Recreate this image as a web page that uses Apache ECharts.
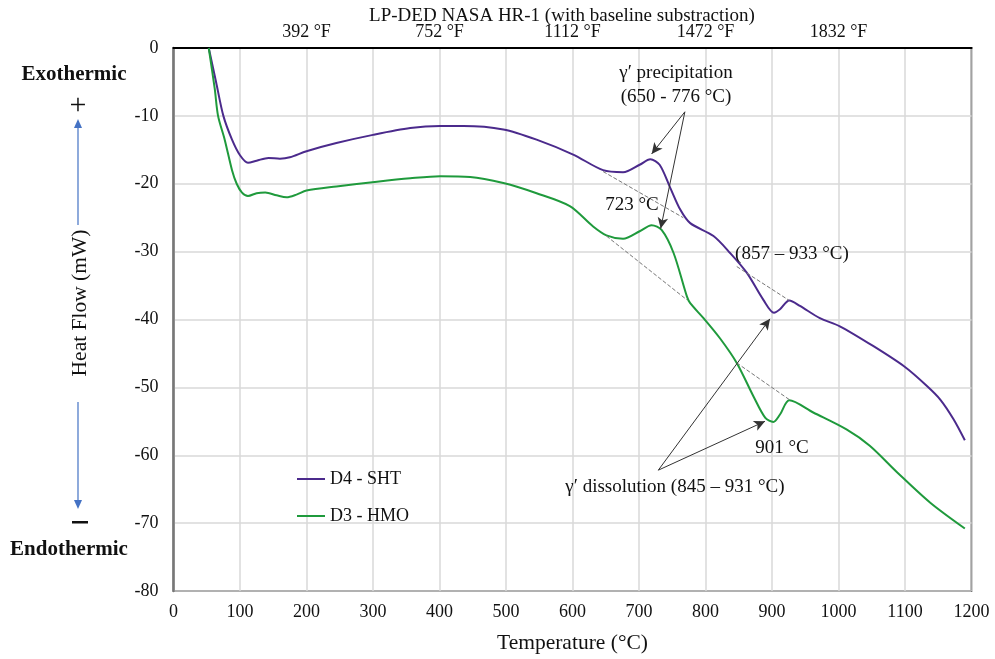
<!DOCTYPE html>
<html><head><meta charset="utf-8">
<script src="https://cdn.jsdelivr.net/npm/echarts@6/dist/echarts.min.js"></script>
<style>html,body{margin:0;padding:0;background:#fff}#c{width:995px;height:659px}</style>
</head><body><div id="c"></div>
<script>
// ---- data ----
const shtTemp = [53, 64, 75, 88, 100, 112, 125, 143, 160, 175, 200, 245, 300, 356, 401, 436, 496, 546, 601, 646, 676, 701, 717, 731, 747, 762, 777, 812, 837, 862, 887, 903, 912, 926, 942, 972, 1002, 1052, 1100, 1133, 1153, 1173, 1190];
const shtHeat = [0, -5, -10, -13.5, -15.8, -16.9, -16.6, -16.2, -16.3, -16.1, -15.2, -14.0, -12.8, -11.8, -11.5, -11.5, -12.0, -13.5, -15.7, -18.0, -18.3, -17.2, -16.4, -17.2, -20.6, -23.8, -25.8, -27.7, -30.2, -33.1, -37.1, -39.0, -38.5, -37.2, -38.0, -39.8, -41.0, -43.9, -47.0, -49.8, -51.8, -54.7, -57.8];
const hmoTemp = [53, 62, 67, 77, 88, 95, 103, 112, 125, 138, 155, 170, 185, 200, 245, 306, 356, 401, 446, 496, 546, 596, 631, 651, 676, 701, 719, 734, 752, 772, 777, 797, 822, 847, 872, 890, 902, 912, 926, 962, 1012, 1047, 1088, 1138, 1190];
const hmoHeat = [0, -6, -10, -13.5, -18, -20, -21.3, -21.8, -21.4, -21.3, -21.7, -22.0, -21.6, -21.0, -20.4, -19.7, -19.2, -18.9, -19.0, -19.9, -21.4, -23.3, -26.3, -27.6, -28.1, -27.0, -26.1, -26.8, -30.2, -36.6, -37.6, -39.8, -42.8, -46.4, -51.3, -54.5, -55.1, -54.0, -51.9, -53.7, -56.2, -58.6, -62.5, -67.0, -70.8];
const seriesNames = ['D4 - SHT', 'D3 - HMO'];
const xTicksC = [0, 100, 200, 300, 400, 500, 600, 700, 800, 900, 1000, 1100, 1200];
const topTicksC = [200, 400, 600, 800, 1000];
const yTicks = [0, -10, -20, -30, -40, -50, -60, -70, -80];
// baselines (dashed) [T1, H1, T2, H2]
const shtBaselines = [[646, -18.2, 766.6, -25.0], [847, -32.2, 926, -37.2]];
const hmoBaselines = [[651, -27.7, 772, -37.1], [847, -46.4, 926, -51.8]];
// annotation arrows [fromT, fromH, toT, toH]
const arrows = [[769, -9.4, 719, -15.6], [769, -9.4, 732.6, -26.6], [729, -62.2, 897, -39.9], [729, -62.2, 889.5, -55.0]];
// annotation texts [text, T, H]
const notes = [
  ['γ′ precipitation', 755.6, -3.7],
  ['(650 - 776 °C)', 755.6, -7.2],
  ['723 °C', 689.5, -23.1],
  ['(857 – 933 °C)', 930, -30.4],
  ['901 °C', 915, -59.0],
  ['γ′ dissolution (845 – 931 °C)', 754, -64.7]
];

const FONT = '"Liberation Serif", "DejaVu Serif", serif';
const purple = '#4b2a8c';
const green = '#1f9a3c';

function pairs(t, h) { return t.map((v, i) => [v, h[i]]); }
function baseLines(arr) {
  return arr.map(b => [{ coord: [b[0], b[1]] }, { coord: [b[2], b[3]] }]);
}

const chart = echarts.init(document.getElementById('c'), null, { renderer: 'canvas' });
const option = {
  animation: false,
  backgroundColor: '#fff',
  grid: { left: 173.5, right: 23.5, top: 48, bottom: 66, show: true, borderColor: '#000', borderWidth: 1.5, backgroundColor: 'transparent' },
  legend: {
    orient: 'vertical', left: 292, top: 465, itemWidth: 28, itemHeight: 2, itemGap: 19, icon: 'rect',
    textStyle: { fontFamily: FONT, fontSize: 18, color: '#111' },
    data: seriesNames
  },
  xAxis: [
    {
      type: 'value', min: 0, max: 1200, interval: 100, position: 'bottom',
      name: 'Temperature (°C)', nameLocation: 'middle', nameGap: 41,
      nameTextStyle: { fontFamily: FONT, fontSize: 21.5, color: '#111' },
      axisLine: { show: true, lineStyle: { color: '#000', width: 2 } },
      axisTick: { show: false },
      axisLabel: { margin: 12, fontFamily: FONT, fontSize: 18, color: '#111',
        formatter: v => xTicksC.indexOf(v) >= 0 ? String(v) : '' },
      splitLine: { show: true, lineStyle: { color: '#d9d9d9', width: 1.5 } }
    },
    {
      type: 'value', min: 0, max: 1200, interval: 200, position: 'top',
      axisLine: { show: true, lineStyle: { color: '#000', width: 1.5 } },
      axisTick: { show: false },
      axisLabel: { margin: 7, fontFamily: FONT, fontSize: 18, color: '#111',
        formatter: v => topTicksC.indexOf(v) >= 0 ? Math.round(v * 9 / 5 + 32) + ' °F' : '' },
      splitLine: { show: false }
    }
  ],
  yAxis: {
    type: 'value', min: -80, max: 0, interval: 10,
    axisLine: { show: true, lineStyle: { color: '#777', width: 2.5 } },
    axisTick: { show: false },
    axisLabel: { margin: 15, padding: [3, 0, 0, 0], fontFamily: FONT, fontSize: 18, color: '#111',
      formatter: v => yTicks.indexOf(v) >= 0 ? String(v) : '' },
    splitLine: { show: true, lineStyle: { color: '#d9d9d9', width: 1.5 } }
  },
  series: [
    {
      name: seriesNames[0], type: 'line', data: pairs(shtTemp, shtHeat),
      symbol: 'none', smooth: 0.3,
      lineStyle: { color: purple, width: 2 }, itemStyle: { color: purple },
      markLine: {
        silent: true, symbol: ['none', 'none'], label: { show: false },
        lineStyle: { type: 'dashed', color: '#777', width: 1 },
        data: baseLines(shtBaselines)
      }
    },
    {
      name: seriesNames[1], type: 'line', data: pairs(hmoTemp, hmoHeat),
      symbol: 'none', smooth: 0.3,
      lineStyle: { color: green, width: 2 }, itemStyle: { color: green },
      markLine: {
        silent: true, symbol: ['none', 'none'], label: { show: false },
        lineStyle: { type: 'dashed', color: '#777', width: 1 },
        data: baseLines(hmoBaselines)
      }
    },
    {
      name: 'arrows', type: 'line', data: [], silent: true,
      markLine: {
        silent: true, symbol: ['none', 'arrow'], symbolSize: [8, 11], label: { show: false },
        lineStyle: { type: 'solid', color: '#333', width: 1 },
        data: arrows.map(a => [{ coord: [a[0], a[1]] }, { coord: [a[2], a[3]] }])
      }
    }
  ]
};
chart.setOption(option);

const g = [];
notes.forEach(n => {
  const p = chart.convertToPixel({ gridIndex: 0 }, [n[1], n[2]]);
  g.push({ type: 'text', x: p[0], y: p[1], style: { text: n[0], font: '19px ' + FONT, fill: '#111', align: 'center', verticalAlign: 'middle' }, z: 10 });
});
// title and left-side decorations
g.push({ type: 'text', x: 562, y: 16, style: { text: 'LP-DED NASA HR-1 (with baseline substraction)', font: '19px ' + FONT, fill: '#111', align: 'center', verticalAlign: 'middle' } });
g.push({ type: 'text', x: 74, y: 75, style: { text: 'Exothermic', font: 'bold 21px ' + FONT, fill: '#111', align: 'center', verticalAlign: 'middle' } });
g.push({ type: 'text', x: 78, y: 106, style: { text: '+', font: '30px ' + FONT, fill: '#111', align: 'center', verticalAlign: 'middle' } });
g.push({ type: 'line', shape: { x1: 78, y1: 126, x2: 78, y2: 225 }, style: { stroke: '#4472c4', lineWidth: 1.2 } });
g.push({ type: 'polygon', shape: { points: [[78, 119], [74, 128], [82, 128]] }, style: { fill: '#4472c4' } });
g.push({ type: 'text', x: 80, y: 303, rotation: Math.PI / 2, style: { text: 'Heat Flow (mW)', font: '21.5px ' + FONT, fill: '#111', align: 'center', verticalAlign: 'middle' } });
g.push({ type: 'line', shape: { x1: 78, y1: 402, x2: 78, y2: 501 }, style: { stroke: '#4472c4', lineWidth: 1.2 } });
g.push({ type: 'polygon', shape: { points: [[78, 509], [74, 500], [82, 500]] }, style: { fill: '#4472c4' } });
g.push({ type: 'rect', shape: { x: 72, y: 521, width: 16, height: 2.5 }, style: { fill: '#111' } });
g.push({ type: 'text', x: 69, y: 550, style: { text: 'Endothermic', font: 'bold 21px ' + FONT, fill: '#111', align: 'center', verticalAlign: 'middle' } });
chart.setOption({ graphic: { elements: g } });
</script>
</body></html>
